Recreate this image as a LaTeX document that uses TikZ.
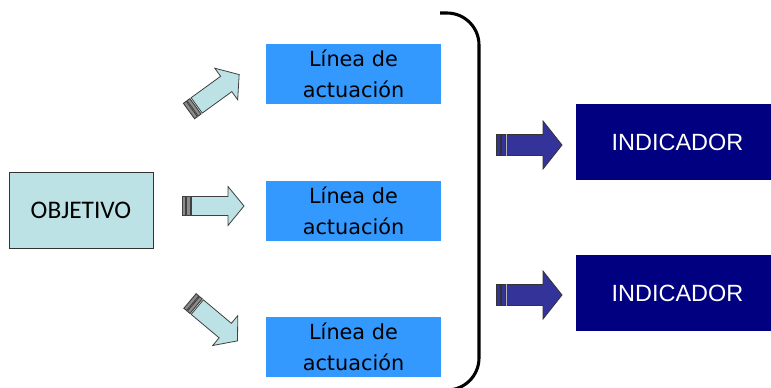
\documentclass[tikz,border=0pt]{standalone}
\usepackage{fontspec}
\setmainfont{Liberation Sans}
\newfontfamily\carlito{Carlito}
\newfontfamily\dejavu{DejaVu Sans}

\definecolor{celeste}{HTML}{BCE2E5}
\definecolor{azul}{HTML}{3399FF}
\definecolor{marino}{HTML}{000080}
\definecolor{violeta}{HTML}{333399}

\tikzset{
    % block arrow with striped tail, drawn along its local x axis
    flechaclara/.pic={
        \filldraw[fill=black!45,draw=black!75,line width=0.7pt] (0,-9.5) rectangle (3.5,9.5);
        \filldraw[fill=black!45,draw=black!75,line width=0.7pt] (4.5,-9.5) rectangle (8,9.5);
        \filldraw[fill=celeste,draw=black!75,line width=0.6pt]
            (9.5,-9.5) -- (46,-9.5) -- (46,-19.5) -- (62,0) -- (46,19.5) -- (46,9.5) -- (9.5,9.5) -- cycle;
    },
    flechaoscura/.pic={
        \filldraw[fill=violeta,draw=black!80,line width=0.7pt] (0,-10.5) rectangle (4,10.5);
        \filldraw[fill=violeta,draw=black!80,line width=0.7pt] (5.5,-10.5) rectangle (9.5,10.5);
        \filldraw[fill=violeta,draw=black!80,line width=0.6pt]
            (11,-10.5) -- (47,-10.5) -- (47,-24) -- (66,0) -- (47,24) -- (47,10.5) -- (11,10.5) -- cycle;
    }
}

\begin{document}
\begin{tikzpicture}[x=0.75pt,y=-0.75pt]
    \useasboundingbox (0,0) rectangle (771,387);

    \node[draw=black!80,fill=celeste,minimum width=108pt,minimum height=57pt,
          font=\carlito\fontsize{19}{22}\selectfont] (obj) at (81,210) {OBJETIVO};

    \begin{scope}[every node/.style={fill=azul,minimum width=131.25pt,minimum height=45pt,
                  align=center,font=\dejavu\fontsize{15.6}{23.3}\selectfont}]
        \node (l1) at (353.5,74) {Línea de\\actuación};
        \node (l2) at (353.5,210.5) {Línea de\\actuación};
        \node (l3) at (353.5,346.5) {Línea de\\actuación};
    \end{scope}

    \begin{scope}[every node/.style={fill=marino,text=white,minimum width=146.25pt,minimum height=57pt,
                  font=\fontsize{17.6}{20}\selectfont}]
        \node (i1) at (673.5,142) {\hspace{6pt}INDICADOR};
        \node (i2) at (673.5,293) {\hspace{6pt}INDICADOR};
    \end{scope}

    % arrows
    \pic[rotate=36] (f1) at (189,111) {flechaclara};
    \pic (f2) at (182,206) {flechaclara};
    \pic[rotate=-40] (f3) at (190,301) {flechaclara};
    \pic (f4) at (496,145) {flechaoscura};
    \pic (f5) at (496,295) {flechaoscura};

    % bracket
    \draw[line width=2.3pt,rounded corners=24pt] (440,13) -- (479,13) -- (479,390) -- (445,390);
\end{tikzpicture}
\end{document}
